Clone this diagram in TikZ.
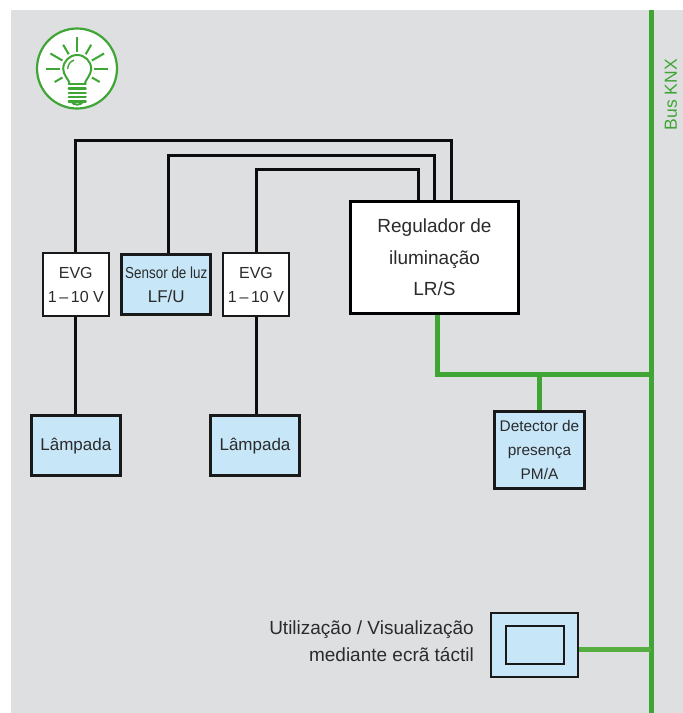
\documentclass[tikz,border=0pt]{standalone}
\usepackage{fontspec}
\setmainfont{Liberation Sans}
\usepackage{xcolor}
\usetikzlibrary{calc, positioning}
\definecolor{panelGray}{HTML}{DEDFE1}
\definecolor{busGreen}{HTML}{3FA535}
\definecolor{linkGreen}{HTML}{56AE40}
\definecolor{devBlue}{HTML}{C7E6F8}
\definecolor{inkGray}{HTML}{2B2B2B}
\tikzset{
    evg/.style={rectangle, draw=black!90, line width=2pt, fill=white, align=center, minimum width=66pt, minimum height=63pt, inner sep=0pt, text=inkGray, font=\fontsize{16}{24}\selectfont},
    device/.style={rectangle, draw=black!90, line width=3pt, fill=devBlue, align=center, minimum width=89pt, minimum height=60pt, inner sep=0pt, text=inkGray, font=\fontsize{17}{24}\selectfont},
    regbox/.style={rectangle, draw=black, line width=3pt, fill=white, align=center, minimum width=168pt, minimum height=112pt, inner sep=0pt, text=inkGray, font=\fontsize{19}{31.5}\selectfont},
    touch/.style={rectangle, draw=black!90, line width=2pt, fill=devBlue, minimum width=87pt, minimum height=64pt, inner sep=0pt},
    screen/.style={rectangle, draw=black!90, line width=2pt, minimum width=58pt, minimum height=38pt, inner sep=0pt},
    caption/.style={align=right, inner sep=0pt, text=inkGray, font=\fontsize{19}{27.5}\selectfont},
    wire/.style={draw=black!95, line width=3pt},
    bus/.style={draw=busGreen, line width=5pt},
    ray/.style={draw=busGreen, line width=2pt},
    ring/.style={circle, draw=busGreen, line width=2.2pt, fill=white, minimum size=80pt, inner sep=0pt}
}
\begin{document}
\begin{tikzpicture}[x=1pt, y=-1pt]
        \useasboundingbox (0,0) rectangle (683,713);
        \fill[panelGray] (11,10) rectangle (683,713);

        % Icon
        \node[ring] (Icon) at (77,68.5) {};
        \begin{scope}[shift={(77.2,69)}, x=1pt, y=1pt]
            \foreach \ang/\rout in {90/32, 60/28, 120/28, 30/31, 150/31, 0/31, 180/31, -30/26, 210/26}
                \draw[ray] (\ang:17) -- (\ang:\rout);
            \draw[ray] (-7.5,-15) .. controls (-8,-11) and (-14,-6) .. (-14,0)
                arc[start angle=180, end angle=0, radius=14]
                .. controls (14,-6) and (8,-11) .. (7.5,-15);
            \draw[ray, line width=1.4pt] (-9.5,0) arc[start angle=180, end angle=110, radius=9.5];
            \foreach \yy in {-15,-19.4,-23.8,-28.2,-32.6}
                \draw[ray, line cap=round, line width=2.4pt] (-8.5,\yy) -- (8.5,\yy);
            \draw[ray] (-5.5,-33) .. controls (-4,-36.5) and (4,-36.5) .. (5.5,-33);
        \end{scope}

        % Upper row
        \node[evg] (EvgA) at (75.8,284.5) {EVG\\1\,–\,10 V};
        \node[device, right=10.5pt of EvgA] (Sensor) {{\addfontfeature{FakeStretch=0.84}\fontsize{16}{24}\selectfont Sensor de luz}\\LF/U};
        \node[evg, right=9.7pt of Sensor] (EvgB) {EVG\\1\,–\,10 V};
        \node[regbox] (Reg) at (434.5,257.5) {Regulador de\\iluminação\\LR/S};

        % Lamps
        \node[device, below=97pt of EvgA, text height=14pt] (LampA) {Lâmpada};
        \node[device, below=97pt of EvgB, xshift=-1pt, text height=14pt] (LampB) {Lâmpada};

        % Bus devices
        \node[device, minimum width=90pt, minimum height=77pt, font=\fontsize{15.4}{24}\selectfont] (Detector) at (539.5,450) {Detector de\\presença\\PM/A};
        \node[touch] (Touch) at (534.5,645) {};
        \node[screen] (Screen) at (Touch) {};
        \node[caption, left=16pt of Touch, yshift=4pt] (TouchText) {Utilização / Visualização\\mediante ecrã táctil};

        % Bus
        \coordinate (BusTop) at (651,10);
        \coordinate (BusEnd) at (651,713);
        \coordinate (BusJoin) at (651,374);
        \draw[bus] (BusTop) -- (BusEnd);
        \node[rotate=90, text=busGreen, inner sep=0pt, font=\fontsize{17.5}{20}\selectfont] (BusText) at (671,94.5) {Bus KNX};

        % Connections
        \draw[wire] (EvgA.north) -- ++(0,-111.5) -| ([xshift=16.5pt]Reg.north);
        \draw[wire] ([xshift=2pt]Sensor.north) -- ++(0,-97.5) -| (Reg.north);
        \draw[wire] (EvgB.north) -- ++(0,-83) -| ([xshift=-16.5pt]Reg.north);
        \draw[wire] (EvgA.south) -- (EvgA.south |- LampA.north);
        \draw[wire] (EvgB.south) -- (EvgB.south |- LampB.north);

        \draw[bus] ([xshift=2.5pt]Reg.south) |- (BusJoin);
        \draw[bus] (Detector.north) -- (Detector.north |- BusJoin);
        \draw[bus, draw=linkGreen] ([yshift=-4pt]Touch.east) -- ([yshift=-4pt]Touch.east -| BusEnd);
\end{tikzpicture}
\end{document}
